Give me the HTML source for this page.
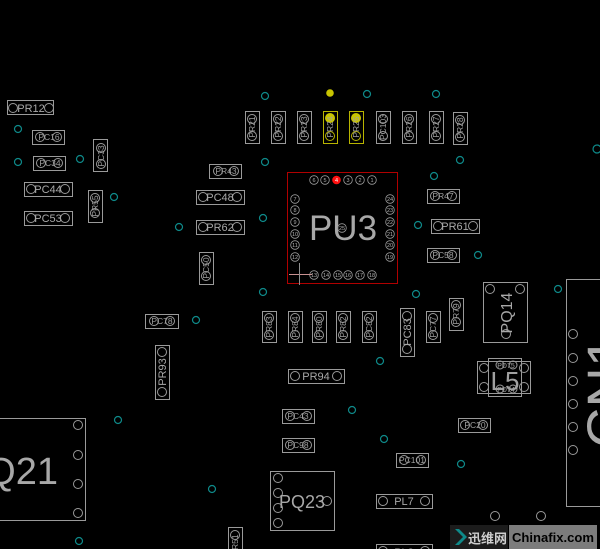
<!DOCTYPE html>
<html><head><meta charset="utf-8"><style>
html,body{margin:0;padding:0;background:#000;}
svg{display:block;}
text{font-family:"Liberation Sans","Noto Sans CJK SC",sans-serif;}
</style></head><body>
<svg width="600" height="549" viewBox="0 0 600 549" xmlns="http://www.w3.org/2000/svg">
<rect width="600" height="549" fill="#000"/>
<!-- vias -->
<g fill="none" stroke="#0e8a8a" stroke-width="1.2">
<circle cx="18" cy="129" r="3.5"/><circle cx="18" cy="162" r="3.5"/><circle cx="80" cy="159" r="3.5"/>
<circle cx="114" cy="197" r="3.5"/><circle cx="179" cy="227" r="3.5"/>
<circle cx="265" cy="96" r="3.5"/><circle cx="367" cy="94" r="3.5"/><circle cx="436" cy="94" r="3.5"/>
<circle cx="265" cy="162" r="3.5"/><circle cx="460" cy="160" r="3.5"/><circle cx="434" cy="176" r="3.5"/>
<circle cx="597" cy="149" r="4"/><circle cx="263" cy="218" r="3.5"/><circle cx="418" cy="225" r="3.5"/>
<circle cx="478" cy="255" r="3.5"/><circle cx="263" cy="292" r="3.5"/><circle cx="416" cy="294" r="3.5"/>
<circle cx="558" cy="289" r="3.5"/><circle cx="196" cy="320" r="3.5"/><circle cx="380" cy="361" r="3.5"/>
<circle cx="118" cy="420" r="3.5"/><circle cx="352" cy="410" r="3.5"/><circle cx="384" cy="439" r="3.5"/>
<circle cx="461" cy="464" r="3.5"/><circle cx="212" cy="489" r="3.5"/><circle cx="79" cy="541" r="3.5"/>
</g>
<circle cx="330" cy="93" r="3.8" fill="#c8c400"/>

<g fill="none" stroke="#9a9a9a" stroke-width="1">
<rect x="7.5" y="100.5" width="46" height="14"/><circle cx="13" cy="108" r="4.5"/><circle cx="49" cy="108" r="4.5"/>
<rect x="32.5" y="130.5" width="32" height="14"/><circle cx="40" cy="137" r="4.5"/><circle cx="57" cy="137" r="4.5"/>
<rect x="33.5" y="156.5" width="32" height="14"/><circle cx="41" cy="163" r="4.5"/><circle cx="58" cy="163" r="4.5"/>
<rect x="93.5" y="139.5" width="14" height="32"/><circle cx="101" cy="148" r="4.5"/><circle cx="101" cy="164" r="4.5"/>
<rect x="24.5" y="182.5" width="48" height="14"/><circle cx="31" cy="189" r="4.5"/><circle cx="65" cy="189" r="4.5"/>
<rect x="88.5" y="190.5" width="14" height="32"/><circle cx="95" cy="198" r="4.5"/><circle cx="95" cy="213" r="4.5"/>
<rect x="24.5" y="211.5" width="48" height="14"/><circle cx="31" cy="218" r="4.5"/><circle cx="65" cy="218" r="4.5"/>
<rect x="209.5" y="164.5" width="32" height="14"/><circle cx="218" cy="171" r="4.5"/><circle cx="234" cy="171" r="4.5"/>
<rect x="196.5" y="190.5" width="48" height="14"/><circle cx="203" cy="197" r="4.5"/><circle cx="237" cy="197" r="4.5"/>
<rect x="196.5" y="220.5" width="48" height="14"/><circle cx="203" cy="227" r="4.5"/><circle cx="237" cy="227" r="4.5"/>
<rect x="199.5" y="252.5" width="14" height="32"/><circle cx="206" cy="260" r="4.5"/><circle cx="206" cy="276" r="4.5"/>
<rect x="145.5" y="314.5" width="33" height="14"/><circle cx="154" cy="321" r="4.5"/><circle cx="170" cy="321" r="4.5"/>
<rect x="155.5" y="345.5" width="14" height="54"/><circle cx="162" cy="352" r="4.5"/><circle cx="162" cy="392" r="4.5"/>
<rect x="245.5" y="111.5" width="14" height="32"/><circle cx="252" cy="119" r="4.5"/><circle cx="252" cy="136" r="4.5"/>
<rect x="271.5" y="111.5" width="14" height="32"/><circle cx="278" cy="119" r="4.5"/><circle cx="278" cy="136" r="4.5"/>
<rect x="297.5" y="111.5" width="14" height="32"/><circle cx="304" cy="119" r="4.5"/><circle cx="304" cy="136" r="4.5"/>
<rect x="376.5" y="111.5" width="14" height="32"/><circle cx="383" cy="119" r="4.5"/><circle cx="383" cy="136" r="4.5"/>
<rect x="402.5" y="111.5" width="14" height="32"/><circle cx="409" cy="119" r="4.5"/><circle cx="409" cy="136" r="4.5"/>
<rect x="429.5" y="111.5" width="14" height="32"/><circle cx="436" cy="119" r="4.5"/><circle cx="436" cy="136" r="4.5"/>
<rect x="453.5" y="112.5" width="14" height="32"/><circle cx="460" cy="120" r="4.5"/><circle cx="460" cy="137" r="4.5"/>
<rect x="427.5" y="189.5" width="32" height="14"/><circle cx="435" cy="196" r="4.5"/><circle cx="452" cy="196" r="4.5"/>
<rect x="431.5" y="219.5" width="48" height="14"/><circle cx="438" cy="226" r="4.5"/><circle cx="473" cy="226" r="4.5"/>
<rect x="427.5" y="248.5" width="32" height="14"/><circle cx="435" cy="255" r="4.5"/><circle cx="452" cy="255" r="4.5"/>
<rect x="483.5" y="282.5" width="44" height="60"/><circle cx="490" cy="289" r="4.5"/><circle cx="520" cy="289" r="4.5"/><circle cx="506" cy="334" r="4.5"/>
<rect x="566.5" y="279.5" width="40" height="227"/>
<circle cx="573" cy="334" r="4.5"/><circle cx="573" cy="358" r="4.5"/><circle cx="573" cy="381" r="4.5"/><circle cx="573" cy="404" r="4.5"/><circle cx="573" cy="427" r="4.5"/><circle cx="573" cy="450" r="4.5"/>
<rect x="477.5" y="361.5" width="53" height="32"/><rect x="488.5" y="358.5" width="33" height="38"/>
<circle cx="484" cy="368" r="4.5"/><circle cx="484" cy="387" r="4.5"/><circle cx="524" cy="368" r="4.5"/><circle cx="524" cy="387" r="4.5"/>
<circle cx="500" cy="365" r="4"/><circle cx="513" cy="365" r="4"/><circle cx="500" cy="389" r="4"/><circle cx="513" cy="389" r="4"/>
<rect x="458.5" y="418.5" width="32" height="14"/><circle cx="465" cy="425" r="4.5"/><circle cx="483" cy="425" r="4.5"/>
<circle cx="495" cy="516" r="4.5"/><circle cx="541" cy="516" r="4.5"/>
<rect x="262.5" y="311.5" width="14" height="31"/><circle cx="269" cy="318" r="4.5"/><circle cx="269" cy="335" r="4.5"/>
<rect x="288.5" y="311.5" width="14" height="31"/><circle cx="295" cy="318" r="4.5"/><circle cx="295" cy="335" r="4.5"/>
<rect x="312.5" y="311.5" width="14" height="31"/><circle cx="319" cy="318" r="4.5"/><circle cx="319" cy="335" r="4.5"/>
<rect x="336.5" y="311.5" width="14" height="31"/><circle cx="343" cy="318" r="4.5"/><circle cx="343" cy="335" r="4.5"/>
<rect x="362.5" y="311.5" width="14" height="31"/><circle cx="369" cy="318" r="4.5"/><circle cx="369" cy="335" r="4.5"/>
<rect x="400.5" y="308.5" width="14" height="48"/><circle cx="407" cy="316" r="4.5"/><circle cx="407" cy="349" r="4.5"/>
<rect x="426.5" y="311.5" width="14" height="31"/><circle cx="433" cy="318" r="4.5"/><circle cx="433" cy="335" r="4.5"/>
<rect x="449.5" y="298.5" width="14" height="32"/><circle cx="456" cy="305" r="4.5"/><circle cx="456" cy="322" r="4.5"/>
<rect x="288.5" y="369.5" width="56" height="14"/><circle cx="295" cy="376" r="4.5"/><circle cx="337" cy="376" r="4.5"/>
<rect x="282.5" y="409.5" width="32" height="14"/><circle cx="290" cy="416" r="4.5"/><circle cx="307" cy="416" r="4.5"/>
<rect x="282.5" y="438.5" width="32" height="14"/><circle cx="290" cy="445" r="4.5"/><circle cx="307" cy="445" r="4.5"/>
<rect x="396.5" y="453.5" width="32" height="14"/><circle cx="404" cy="460" r="4.5"/><circle cx="421" cy="460" r="4.5"/>
<rect x="270.5" y="471.5" width="64" height="59"/>
<circle cx="278" cy="478" r="4.5"/><circle cx="278" cy="493" r="4.5"/><circle cx="278" cy="508" r="4.5"/><circle cx="278" cy="523" r="4.5"/><circle cx="327" cy="501" r="4.5"/>
<rect x="376.5" y="494.5" width="56" height="14"/><circle cx="383" cy="501" r="4.5"/><circle cx="425" cy="501" r="4.5"/>
<rect x="376.5" y="544.5" width="56" height="14"/><circle cx="383" cy="551" r="4.5"/><circle cx="425" cy="551" r="4.5"/>
<rect x="228.5" y="527.5" width="14" height="30"/><circle cx="235" cy="535" r="4.5"/>
<rect x="-5.5" y="418.5" width="91" height="102"/>
<circle cx="78" cy="425" r="4.5"/><circle cx="78" cy="455" r="4.5"/><circle cx="78" cy="484" r="4.5"/><circle cx="78" cy="513" r="4.5"/>
</g>
<g fill="none" stroke="#b8b400" stroke-width="1">
<rect x="323.5" y="111.5" width="14" height="32"/><rect x="349.5" y="111.5" width="14" height="32"/>
<circle cx="330" cy="136" r="4.5"/><circle cx="356" cy="136" r="4.5"/>
</g>
<circle cx="330" cy="118" r="5" fill="#c8c400"/><circle cx="356" cy="118" r="5" fill="#c8c400"/>

<g fill="#a8a8a8" font-size="11" text-anchor="middle">
<text x="31" y="112">PR12</text>
<text x="48" y="193">PC44</text>
<text x="48" y="222">PC53</text>
<text x="220" y="201">PC48</text>
<text x="220" y="231">PR62</text>
<text x="455" y="230">PR61</text>
<text x="316" y="380">PR94</text>
<text x="404" y="505">PL7</text>
<text x="404" y="556">PL8</text>
<text transform="translate(166,372) rotate(-90)">PR93</text>
<text transform="translate(411,332) rotate(-90)">PC83</text>
</g>
<g fill="#a0a0a0" font-size="8.5" text-anchor="middle">
<text x="49" y="140">PC16</text>
<text x="50" y="166">PC34</text>
<text x="226" y="174">PR43</text>
<text x="443" y="199">PR47</text>
<text x="443" y="258">PC58</text>
<text x="162" y="324">PC78</text>
<text x="298" y="419">PC43</text>
<text x="298" y="448">PC98</text>
<text x="412" y="463">PC101</text>
<text x="475" y="428">PC20</text>
<text x="506" y="368" font-size="7">PD75</text>
<text x="506" y="392" font-size="7">PD74</text>
<text transform="translate(104,156) rotate(-90)">PC33</text>
<text transform="translate(98,206) rotate(-90)">PR55</text>
<text transform="translate(209,268) rotate(-90)">PC50</text>
<text transform="translate(255,127) rotate(-90)">PR21</text>
<text transform="translate(281,127) rotate(-90)">PR22</text>
<text transform="translate(307,127) rotate(-90)">PR23</text>
<text transform="translate(333,127) rotate(-90)">PR24</text>
<text transform="translate(359,127) rotate(-90)">PR25</text>
<text transform="translate(386,127) rotate(-90)">PC103</text>
<text transform="translate(412,127) rotate(-90)">PR26</text>
<text transform="translate(439,127) rotate(-90)">PR27</text>
<text transform="translate(463,128) rotate(-90)">PR28</text>
<text transform="translate(272,327) rotate(-90)">PR83</text>
<text transform="translate(298,327) rotate(-90)">PR84</text>
<text transform="translate(322,327) rotate(-90)">PR80</text>
<text transform="translate(346,327) rotate(-90)">PR82</text>
<text transform="translate(372,327) rotate(-90)">PC82</text>
<text transform="translate(436,327) rotate(-90)">PC77</text>
<text transform="translate(459,314) rotate(-90)">PR79</text>
<text transform="translate(238,545) rotate(-90)">PR51</text>
</g>
<text transform="translate(512,313) rotate(-90)" fill="#a8a8a8" font-size="16" text-anchor="middle">PQ14</text>
<text x="505" y="390" fill="#a0a0a0" font-size="26" text-anchor="middle">L5</text>
<text x="302" y="508" fill="#a8a8a8" font-size="18" text-anchor="middle">PQ23</text>
<text x="58" y="484" fill="#a8a8a8" font-size="38" text-anchor="end">PQ21</text>
<text transform="translate(626,392) rotate(-90)" fill="#a8a8a8" font-size="56" text-anchor="middle">CN1</text>

<rect x="287.5" y="172.5" width="110" height="111" fill="none" stroke="#b00000" stroke-width="1"/>
<text x="343" y="240" fill="#a8a8a8" font-size="35" text-anchor="middle">PU3</text>
<circle cx="336.5" cy="180" r="4.3" fill="#ff1010"/>
<g fill="none" stroke="#9a9a9a" stroke-width="0.8">
<circle cx="314" cy="180" r="4.3"/><circle cx="325" cy="180" r="4.3"/><circle cx="348" cy="180" r="4.3"/><circle cx="360" cy="180" r="4.3"/><circle cx="372" cy="180" r="4.3"/>
<circle cx="295" cy="199" r="4.3"/><circle cx="295" cy="210" r="4.3"/><circle cx="295" cy="222" r="4.3"/><circle cx="295" cy="234" r="4.3"/><circle cx="295" cy="245" r="4.3"/><circle cx="295" cy="257" r="4.3"/>
<circle cx="390" cy="199" r="4.3"/><circle cx="390" cy="210" r="4.3"/><circle cx="390" cy="222" r="4.3"/><circle cx="390" cy="234" r="4.3"/><circle cx="390" cy="245" r="4.3"/><circle cx="390" cy="257" r="4.3"/>
<circle cx="314" cy="275" r="4.3"/><circle cx="326" cy="275" r="4.3"/><circle cx="338" cy="275" r="4.3"/><circle cx="348" cy="275" r="4.3"/><circle cx="360" cy="275" r="4.3"/><circle cx="372" cy="275" r="4.3"/>
<circle cx="342" cy="228" r="4.3"/>
</g>
<g fill="#b0b0b0" font-size="5.5" text-anchor="middle">
<text x="314" y="182">6</text><text x="325" y="182">5</text><text x="336.5" y="182" fill="#fff">4</text><text x="348" y="182">3</text><text x="360" y="182">2</text><text x="372" y="182">1</text>
<text x="295" y="201">7</text><text x="295" y="212">8</text><text x="295" y="224">9</text><text x="295" y="236">10</text><text x="295" y="247">11</text><text x="295" y="259">12</text>
<text x="390" y="201">24</text><text x="390" y="212">23</text><text x="390" y="224">22</text><text x="390" y="236">21</text><text x="390" y="247">20</text><text x="390" y="259">19</text>
<text x="314" y="277">13</text><text x="326" y="277">14</text><text x="338" y="277">15</text><text x="348" y="277">16</text><text x="360" y="277">17</text><text x="372" y="277">18</text>
<text x="342" y="230">25</text>
</g>
<line x1="289" y1="274.5" x2="312" y2="274.5" stroke="#c89090" stroke-width="1"/>
<line x1="299.5" y1="263" x2="299.5" y2="285" stroke="#909090" stroke-width="1"/>

<rect x="450" y="525" width="58" height="24" fill="#1c1c1c"/>
<path d="M455 529 L463 537 L455 545 L459 545 L467 537 L459 529 Z" fill="#0e8a8a"/>
<text x="468" y="543" fill="#cfcfcf" font-size="13" font-weight="bold" font-family="'Noto Sans CJK SC',sans-serif">迅维网</text>
<rect x="509" y="525" width="88" height="24" fill="#7c7c7c"/>
<text x="553" y="542" fill="#000" font-size="13" font-weight="bold" text-anchor="middle" textLength="82" lengthAdjust="spacingAndGlyphs">Chinafix.com</text>
</svg>
</body></html>
